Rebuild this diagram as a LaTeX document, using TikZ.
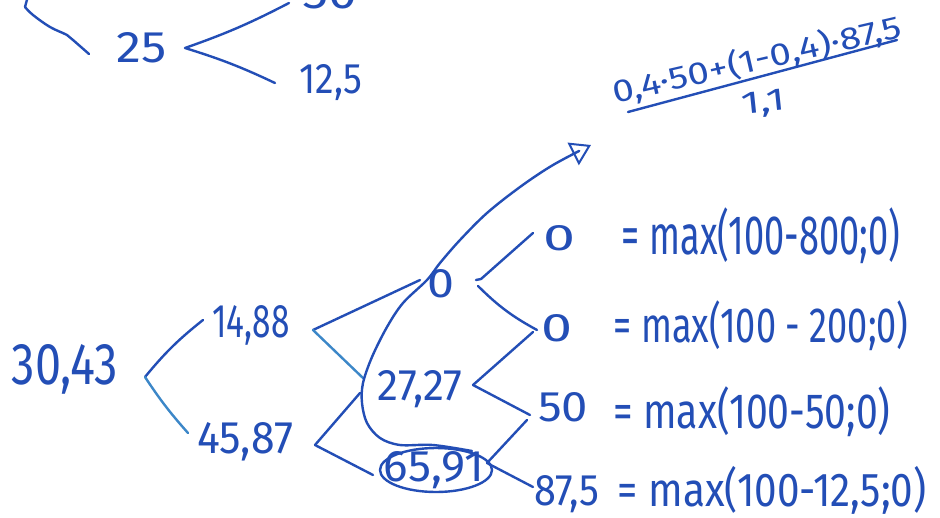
\documentclass[tikz,border=0pt]{standalone}
\usepackage{fontspec}
\setmainfont{Fira Sans}
\usepackage{graphicx}
\usetikzlibrary{arrows.meta}
\definecolor{ink}{RGB}{35,78,182}
\definecolor{inkl}{RGB}{60,135,200}
\newcommand{\hwt}[3]{\resizebox{#1pt}{#2pt}{#3}}
\newcommand{\hwT}[3]{\resizebox*{#1pt}{#2pt}{#3}}
\begin{document}
\begin{tikzpicture}[x=1pt,y=-1pt,
  hw/.style={inner sep=0pt, outer sep=0pt, text=ink, anchor=center},
  br/.style={draw=ink, line width=2.4pt, line cap=round, line join=round},
  brl/.style={br, draw=inkl}]
\useasboundingbox (0,0) rectangle (940,517);
\clip (0,0) rectangle (940,517);
\fill[white] (0,0) rectangle (940,517);

% ---- top fragment (cut off) ----
\node[hw] (ntl) at (-10,12) {\hwt{25}{28}{0}};
\node[hw] (n50t) at (330,-6) {\hwt{55}{30}{50}};
\node[hw] (n25) at (142,48) {\hwt{50}{30}{25}};
\node[hw] (n125) at (331,83) {\hwt{63}{29}{12,5}};
\coordinate (ta) at (25,7);
\coordinate (tb) at (89,54);
\coordinate (tc) at (28,-4);
\draw[br] (ta) -- (tc);
\draw[br] plot[smooth, tension=0.6] coordinates {(ta) (33,15) (50,27) (67,35) (73,40) (tb)};
\coordinate (v25) at (185,48);
\coordinate (e25a) at (289,3);
\coordinate (e25b) at (275,83);
\draw[br] (e25a) to[bend left=4] (v25) to[bend left=4] (e25b);

% ---- formula ----
\node[hw, rotate=13] (num) at (757,60) {\hwT{296}{32}{0,4·50+(1-0,4)·87,5}};
\node[hw, rotate=6] (den) at (764,104) {\hwt{44}{21}{1,1}};
\coordinate (fa) at (628,112);
\coordinate (fb) at (897,40);
\draw[br] (fa) -- (fb);

% ---- tree ----
\node[hw] (n3043) at (65,369) {\hwt{106}{40}{30,43}};
\node[hw] (n1488) at (251,325) {\hwt{77}{32}{14,88}};
\node[hw] (n4587) at (245,442) {\hwt{96}{31}{45,87}};
\node[hw] (nz) at (441,284) {\hwt{27}{28}{0}};
\node[hw] (n2727) at (420,389) {\hwt{85}{30}{27,27}};
\node[hw] (n6591) at (434,470) {\hwt{100}{30}{65,91}};
\draw[br] (436,470) ellipse [x radius=56, y radius=22];

\node[hw] (l1) at (559,238) {\hwt{32}{25}{0}};
\node[hw] (l2) at (557,328) {\hwt{31}{27}{0}};
\node[hw] (l3) at (563,407) {\hwt{50}{29}{50}};
\node[hw] (l4) at (567,494) {\hwt{65}{30}{87,5}};

\node[hw] (e1) at (761,236) {\hwT{278}{56}{= max(100-800;0)}};
\node[hw] (e2) at (761,326) {\hwT{295}{50}{= max(100 - 200;0)}};
\node[hw] (e3) at (752,412) {\hwT{277}{50}{= max(100-50;0)}};
\node[hw] (e4) at (772,490) {\hwT{309}{48}{= max(100-12,5;0)}};

% branches
\coordinate (v1) at (145,377);
\coordinate (v1a) at (203,320);
\coordinate (v1b) at (188,433);
\draw[br] (v1) to[bend left=6] (v1a);
\draw[brl] (v1) to[bend right=4] (v1b);

\coordinate (v2) at (313,330);
\coordinate (v2a) at (420,280);
\coordinate (v2b) at (363,378);
\draw[br] (v2) -- (v2a);
\draw[brl] (v2) -- (v2b);

\coordinate (v3) at (315,445);
\coordinate (v3a) at (360,393);
\coordinate (v3b) at (373,475);
\draw[br] (v3) -- (v3a);
\draw[br] (v3) -- (v3b);

\coordinate (v4a) at (533,233);
\coordinate (v4u) at (481,279);
\coordinate (v4h) at (476,280);
\coordinate (v4l) at (478,286);
\coordinate (v4b) at (537,330);
\draw[br] (v4a) -- (v4u) -- (v4h);
\draw[br] (v4l) to[bend right=8] (v4b);

\coordinate (v5) at (473,385);
\coordinate (v5a) at (533,332);
\coordinate (v5b) at (530,415);
\draw[br] (v5) -- (v5a);
\draw[br] (v5) -- (v5b);

\coordinate (v6) at (487,463);
\coordinate (v6a) at (527,420);
\coordinate (v6b) at (533,487);
\draw[br] (v6) -- (v6a);
\draw[br] (v6) -- (v6b);

% long arrow
\coordinate (cs) at (472,451);
\coordinate (ce) at (591,145);
\draw[br, -{Triangle[open, length=20pt, width=25pt, line width=2pt]}]
  plot[smooth, tension=0.55] coordinates {(cs) (433,445) (400,445) (380,438) (367,423) (362,403) (363,383) (372,357) (387,327) (403,303) (427,280) (440,263) (460,240) (487,213) (520,187) (553,165) (ce)};
\end{tikzpicture}
\end{document}
